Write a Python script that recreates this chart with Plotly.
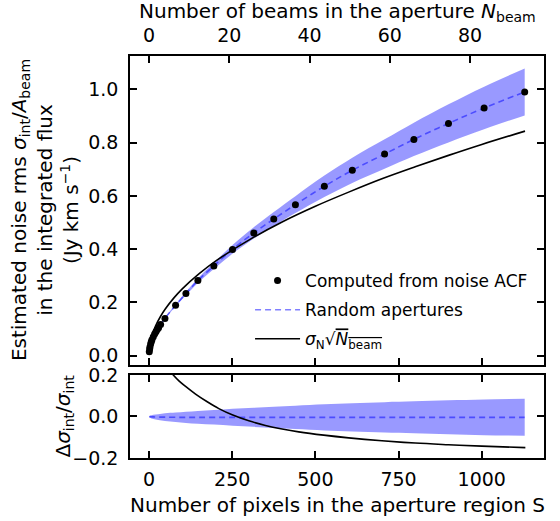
import plotly.graph_objects as go

# ---------------- data ----------------
# Points "Computed from noise ACF"
acf_S = [1, 2, 3, 5, 7, 9, 13, 17, 21, 25, 29, 35,
         48, 80, 111, 147, 195, 251, 315, 375, 440, 527, 611, 708, 796, 900, 1007, 1129]
acf_val = [0.015, 0.025, 0.033, 0.044, 0.052, 0.060, 0.071, 0.081, 0.090, 0.098, 0.105, 0.117,
           0.140, 0.189, 0.233, 0.282, 0.337, 0.399, 0.461, 0.513, 0.567, 0.636, 0.696, 0.757,
           0.812, 0.872, 0.930, 0.990]

# Random apertures: mean curve and relative 1-sigma spread
rand_S = [1, 3, 13, 28, 48, 80, 111, 147, 195, 251, 315, 375, 440, 527, 611, 708, 796, 900, 1007, 1129]
rand_mean = [0.012, 0.033, 0.071, 0.104, 0.140, 0.189, 0.233, 0.282, 0.337, 0.399, 0.461, 0.513,
             0.567, 0.636, 0.696, 0.757, 0.812, 0.872, 0.930, 0.990]
rand_rel = [0.002, 0.005, 0.010, 0.014, 0.019, 0.023, 0.027, 0.031, 0.035, 0.041, 0.046, 0.051,
            0.056, 0.063, 0.068, 0.073, 0.077, 0.082, 0.086, 0.089]
rand_resid = [0.0, -0.001, -0.002, -0.003, -0.003, -0.004, -0.004, -0.004, -0.004, -0.004, -0.004,
              -0.004, -0.004, -0.004, -0.004, -0.004, -0.004, -0.004, -0.004, -0.004]

# sigma_N * sqrt(N_beam)
sq_S = [1, 2, 5, 10, 20, 35, 50, 75, 100, 150, 200, 300, 400, 500, 600, 700, 800, 900, 1000, 1130]
sq_val = [0.025, 0.035, 0.056, 0.079, 0.112, 0.148, 0.177, 0.217, 0.251, 0.307, 0.355, 0.434,
          0.502, 0.561, 0.614, 0.664, 0.709, 0.752, 0.793, 0.843]

# residual of sigma_N sqrt(N_beam) relative to the ACF estimate
sqres_S = [40, 50, 60, 73, 90, 110, 140, 175, 210, 250, 300, 350, 400, 450, 525, 600, 700, 800,
           900, 1000, 1131]
sqres_val = [0.30, 0.255, 0.228, 0.200, 0.172, 0.145, 0.108, 0.071, 0.038, 0.008, -0.021, -0.043,
             -0.060, -0.074, -0.090, -0.103, -0.117, -0.128, -0.136, -0.143, -0.150]

x_ticks = [0, 250, 500, 750, 1000]
beam_ticks = [0, 20, 40, 60, 80]
y_ticks = [0.0, 0.2, 0.4, 0.6, 0.8, 1.0]
res_ticks = [-0.2, 0.0, 0.2]
x_range = [-57, 1187]
beam_range = [-4.73, 98.42]   # same extent expressed in beams (12.06 pixels per beam)

# ---------------- styles ----------------
FONT = "DejaVu Sans"
BAND = "rgba(0,0,255,0.4)"
DASH = "rgba(0,0,255,0.5)"

band_hi = [m * (1 + r) for m, r in zip(rand_mean, rand_rel)]
band_lo = [m * (1 - r) for m, r in zip(rand_mean, rand_rel)]
res_hi = [d + r for d, r in zip(rand_resid, rand_rel)]
res_lo = [d - r for d, r in zip(rand_resid, rand_rel)]

fig = go.Figure()

# top panel band
fig.add_trace(go.Scatter(x=rand_S, y=band_lo, mode="lines", line=dict(width=0, shape="spline"),
                         showlegend=False, hoverinfo="skip", xaxis="x", yaxis="y"))
fig.add_trace(go.Scatter(x=rand_S, y=band_hi, mode="lines", line=dict(width=0, shape="spline"),
                         fill="tonexty", fillcolor=BAND, showlegend=False, hoverinfo="skip",
                         xaxis="x", yaxis="y"))
fig.add_trace(go.Scatter(x=rand_S, y=rand_mean, mode="lines", name="Random apertures",
                         line=dict(color=DASH, width=1.6, dash="6px,4px", shape="spline"),
                         legendrank=2, legendgroup="b", xaxis="x", yaxis="y"))
fig.add_trace(go.Scatter(x=sq_S, y=sq_val, mode="lines",
                         name="<i>σ</i><sub>N</sub>√<span style='text-decoration:overline'><i>N</i><sub>beam</sub></span>",
                         line=dict(color="black", width=1.6, shape="spline"),
                         legendrank=3, legendgroup="c", xaxis="x", yaxis="y"))
fig.add_trace(go.Scatter(x=acf_S, y=acf_val, mode="markers", name="Computed from noise ACF",
                         marker=dict(color="black", size=7),
                         legendrank=1, legendgroup="a", xaxis="x", yaxis="y"))

# bottom panel
fig.add_trace(go.Scatter(x=rand_S, y=res_lo, mode="lines", line=dict(width=0, shape="spline"),
                         showlegend=False, hoverinfo="skip", xaxis="x2", yaxis="y2"))
fig.add_trace(go.Scatter(x=rand_S, y=res_hi, mode="lines", line=dict(width=0, shape="spline"),
                         fill="tonexty", fillcolor=BAND, showlegend=False, hoverinfo="skip",
                         xaxis="x2", yaxis="y2"))
fig.add_trace(go.Scatter(x=rand_S, y=rand_resid, mode="lines",
                         line=dict(color=DASH, width=1.6, dash="6px,4px", shape="spline"),
                         showlegend=False, xaxis="x2", yaxis="y2"))
fig.add_trace(go.Scatter(x=sqres_S, y=sqres_val, mode="lines",
                         line=dict(color="black", width=1.6, shape="spline", smoothing=1.0),
                         showlegend=False, xaxis="x2", yaxis="y2"))

# dummy trace so the top beam axis is drawn
fig.add_trace(go.Scatter(x=[beam_ticks[0]], y=[y_ticks[0]], mode="markers", opacity=0,
                         showlegend=False, hoverinfo="skip", xaxis="x3", yaxis="y"))

axis_common = dict(ticks="inside", ticklen=7, tickwidth=1.5, tickcolor="black",
                   showline=True, linewidth=1.5, linecolor="black",
                   showgrid=False, zeroline=False,
                   tickfont=dict(family=FONT, size=19, color="black"))

fig.update_layout(
    width=560, height=521,
    margin=dict(l=130, r=16, t=56, b=63),
    paper_bgcolor="white", plot_bgcolor="white",
    font=dict(family=FONT, color="black"),
    showlegend=True,
    legend=dict(x=0.29, y=0.485, xanchor="left", yanchor="top", traceorder="grouped",
                bgcolor="rgba(0,0,0,0)", font=dict(family=FONT, size=17, color="black"),
                tracegroupgap=4, itemwidth=45),
    xaxis=dict(domain=[0, 1], anchor="y", range=x_range, tickvals=x_ticks,
               showticklabels=False, mirror=True, **axis_common),
    yaxis=dict(domain=[0.2313, 1], anchor="x", range=[-0.035, 1.125], tickvals=y_ticks,
               tickformat=".1f", mirror="ticks", ticklabelstandoff=6, **axis_common),
    xaxis2=dict(domain=[0, 1], anchor="y2", range=x_range, tickvals=x_ticks,
                mirror="ticks", ticklabelstandoff=3, **axis_common),
    yaxis2=dict(domain=[0, 0.2065], anchor="x2", range=[-0.2, 0.2], tickvals=res_ticks,
                tickformat=".1f", mirror="ticks", ticklabelstandoff=6, **axis_common),
    xaxis3=dict(overlaying="x", side="top", anchor="y", range=beam_range, tickvals=beam_ticks,
                ticks="inside", ticklen=7, tickwidth=1.5, tickcolor="black", showline=False,
                showgrid=False, zeroline=False, ticklabelstandoff=9,
                tickfont=dict(family=FONT, size=19, color="black")),
)

ann_font = dict(family=FONT, size=20, color="black")
fig.add_annotation(text="Number of beams in the aperture <i>N</i><sub>beam</sub>",
                   xref="paper", yref="paper", x=0.5, y=1.109, showarrow=False,
                   xanchor="center", yanchor="middle", font=ann_font)
fig.add_annotation(text="Number of pixels in the aperture region S",
                   xref="paper", yref="paper", x=0.5, y=-0.117, showarrow=False,
                   xanchor="center", yanchor="middle", font=ann_font)
fig.add_annotation(text="Estimated noise rms <i>σ</i><sub>int</sub>/<i>A</i><sub>beam</sub><br>"
                        "in the integrated flux<br>(Jy km s<sup>−1</sup>)",
                   xref="paper", yref="paper", x=-0.205, y=0.617, showarrow=False,
                   textangle=-90, xanchor="center", yanchor="middle", font=ann_font)
fig.add_annotation(text="Δ<i>σ</i><sub>int</sub>/<i>σ</i><sub>int</sub>",
                   xref="paper", yref="paper", x=-0.16, y=0.105, showarrow=False,
                   textangle=-90, xanchor="center", yanchor="middle", font=ann_font)

fig.write_html("out.html")
